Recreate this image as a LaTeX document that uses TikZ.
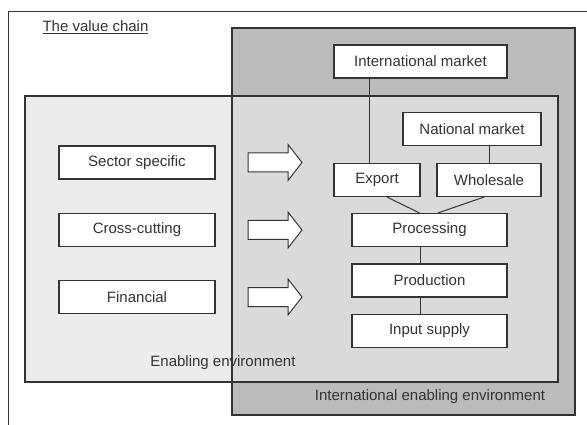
\documentclass[tikz,border=0pt]{standalone}
\usepackage{fontspec}
\setmainfont{Liberation Sans}
\usepackage{tikz}
\usetikzlibrary{calc}
\definecolor{envdark}{HTML}{BBBBBB}
\definecolor{envlight}{HTML}{ECECEC}
\definecolor{envmix}{HTML}{DADADA}
\definecolor{inkgrey}{HTML}{333333}
\tikzset{
	chainbox/.style={draw=inkgrey, line width=1.1pt, fill=white, minimum height=33pt, inner sep=0pt, text=inkgrey},
	envline/.style={draw=inkgrey, line width=1.2pt},
	link/.style={draw=inkgrey, line width=1pt}
}
\newcommand{\blockarrow}[1]{
	\draw[link, fill=white, line join=miter] ($(#1)+(-53,-9.5)$) -- ++(40,0) -- ++(0,-8.5) -- ++(14,18) -- ++(-14,18) -- ++(0,-8.5) -- ++(-40,0) -- cycle;
}

\begin{document}
\begin{tikzpicture}[x=1pt,y=-1pt,font=\fontsize{15}{18}\selectfont]
	\useasboundingbox (0,0) rectangle (587,425);
	\coordinate (D1) at (232,28);
	\coordinate (D2) at (575,415);
	\coordinate (L1) at (25,96);
	\coordinate (L2) at (558,382);

	% environments
	\fill[envdark] (D1) rectangle (D2);
	\fill[envlight] (L1) rectangle (L2);
	\fill[envmix] (D1 |- L1) rectangle (L2);
	\draw[envline] (D1) rectangle (D2);
	\draw[envline] (L1) rectangle (L2);
	\draw[inkgrey, line width=0.8pt] (587,11) -- (8,11) -- (8,425);

	\node[text=inkgrey, anchor=west] (title) at (39,27) {\underline{The value chain}};
	\node[text=inkgrey] (enabling) at (223,363) {Enabling environment};
	\node[text=inkgrey] (intenabling) at (430,397) {International enabling environment};

	% left column
	\node[chainbox, minimum width=156pt] (sector) at (137,162.5) {Sector specific};
	\node[chainbox, minimum width=156pt] (cross) at (137,230) {Cross-cutting};
	\node[chainbox, minimum width=156pt] (financial) at (137,297) {Financial};
	\coordinate (A1) at (301,162.5);
	\coordinate (A2) at (301,230);
	\coordinate (A3) at (301,297);
	\blockarrow{A1}
	\blockarrow{A2}
	\blockarrow{A3}

	% chain
	\node[chainbox, minimum width=173pt] (intmarket) at (420.5,61.5) {International market};
	\node[chainbox, minimum width=138pt] (natmarket) at (472,129) {National market};
	\node[chainbox, minimum width=86pt] (export) at (377,180) {Export};
	\node[chainbox, minimum width=104pt] (wholesale) at (489,180) {Wholesale};
	\node[chainbox, minimum width=155pt] (processing) at (429.5,230) {Processing};
	\node[chainbox, minimum width=155pt] (production) at (429.5,280.5) {Production};
	\node[chainbox, minimum width=155pt] (input) at (429.5,331) {Input supply};

	\coordinate (EXtop) at ($(export.north)+(-8,0)$);
	\draw[link] (EXtop) -- (EXtop |- intmarket.south);
	\draw[link] (wholesale.north) -- (wholesale.north |- natmarket.south);
	\draw[link] ($(export.south)+(10,0)$) -- ($(processing.north)+(-10,0)$);
	\draw[link] ($(wholesale.south)+(-5,0)$) -- ($(processing.north)+(8.5,0)$);
	\coordinate (PRcol) at ($(processing.south)+(-9.5,0)$);
	\draw[link] (PRcol) -- (PRcol |- production.north);
	\draw[link] (PRcol |- production.south) -- (PRcol |- input.north);
\end{tikzpicture}
\end{document}
